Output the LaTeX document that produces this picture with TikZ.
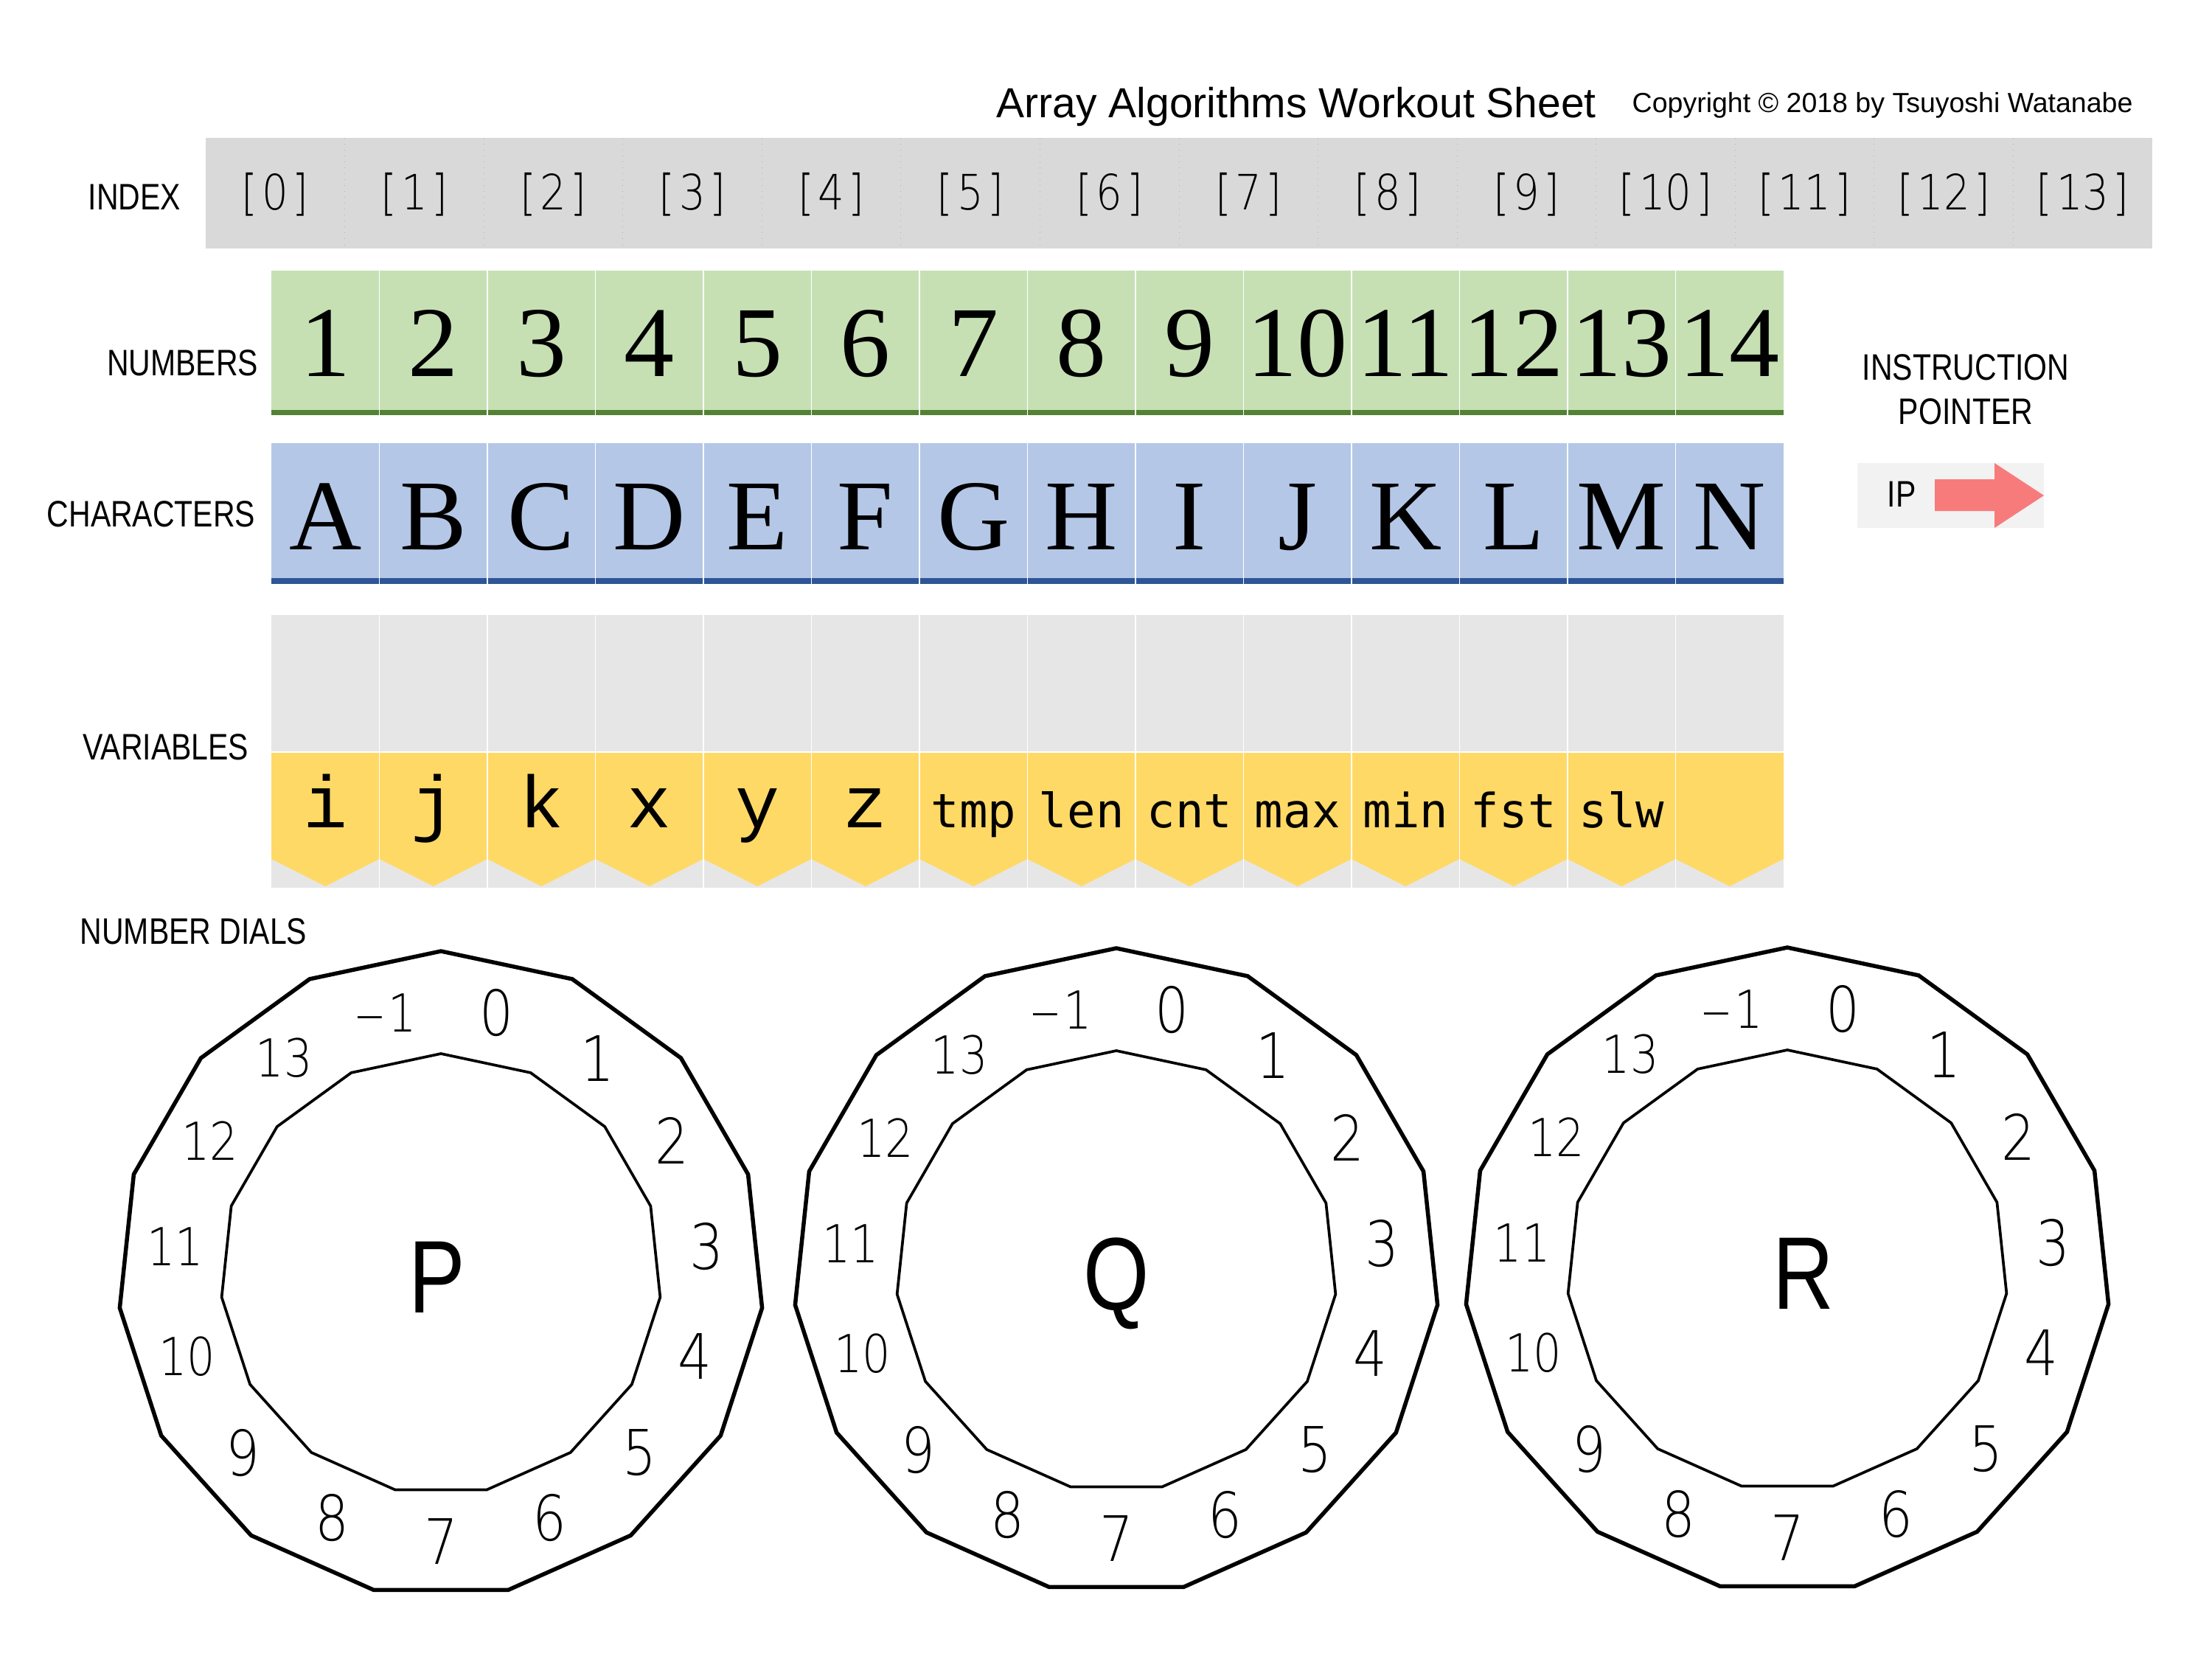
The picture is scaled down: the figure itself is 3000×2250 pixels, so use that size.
\documentclass[tikz,border=0pt]{standalone}
\usepackage{fontspec}
\setmainfont{Liberation Sans}
\newfontfamily\titlefont{Liberation Sans}
\newfontfamily\narrowfont[FakeStretch=0.82]{Liberation Sans}
\newfontfamily\serifnum{Liberation Serif}
\newfontfamily\courierfont{Liberation Mono}
\newfontfamily\sansmono{DejaVu Sans Mono}
\IfFontExistsTF{DejaVu Sans ExtraLight}%
  {\newfontfamily\dialfont[FakeStretch=0.85]{DejaVu Sans ExtraLight}}%
  {\newfontfamily\dialfont[FakeStretch=0.85]{DejaVu Sans}}
\newcommand\fsz[1]{\fontsize{\fpeval{#1*0.28453}pt}{\fpeval{#1*0.28453*1.2}pt}\selectfont}
\newcommand\idxlab[1]{\makebox[0.5em]{[}#1\makebox[0.5em]{]}}
\newcommand\negone{\scalebox{1.35}[1]{–}\kern0.06em 1}
\definecolor{idxgray}{HTML}{D9D9D9}
\definecolor{vargray}{HTML}{E7E6E6}
\definecolor{numgreen}{HTML}{C6E0B4}
\definecolor{numdark}{HTML}{548235}
\definecolor{chrblue}{HTML}{B4C7E7}
\definecolor{chrdark}{HTML}{2F5597}
\definecolor{varyellow}{HTML}{FFD966}
\definecolor{ipgray}{HTML}{F2F2F2}
\definecolor{iparrow}{HTML}{F87B7B}
\tikzset{
  lab/.style={font={\narrowfont\fsz{50}}, inner sep=0pt},
  titletext/.style={font={\titlefont\fsz{57}}, inner sep=0pt},
  copytext/.style={font={\titlefont\fsz{37.5}}, inner sep=0pt},
  idxtext/.style={font={\dialfont\fsz{66}}, inner sep=0pt},
  bigserif/.style={font={\serifnum\fsz{136}}, inner sep=0pt},
  courvar/.style={font={\courierfont\fsz{100}}, inner sep=0pt},
  monovar/.style={font={\sansmono\fsz{64}}, inner sep=0pt},
  dialnum/.style={font={\dialfont\fsz{#1}}, inner sep=0pt},
  dialletter/.style={font={\narrowfont\fsz{140}}, inner sep=0pt},
  celldiv/.style={white, line width=0.12mm},
  outerpoly/.style={line width=0.55mm, line join=miter},
  innerpoly/.style={line width=0.37mm, line join=miter}
}
% #1 name, #2 cx, #3 cy, #4 letter, #5 letter x offset
\newcommand\drawdial[5]{%
  \begin{scope}[shift={(#2,#3)}]
    \draw[outerpoly] (0,-438) \foreach \k in {1,...,14}{ -- ({438*cos(90-24*\k)},{-438*sin(90-24*\k)}) } -- cycle;
    \draw[innerpoly] (0,-299) \foreach \k in {1,...,14}{ -- ({299*cos(90-24*\k)},{-299*sin(90-24*\k)}) } -- cycle;
    \foreach \n/\s [count=\c from 0] in {\negone/71,0/85,1/85,2/85,3/85,4/85,5/85,6/85,7/85,8/85,9/85,10/71,11/71,12/71,13/71}{
      \node[dialnum=\s] (#1-n\c) at ({362*cos(102-24*\c)},{-362*sin(102-24*\c)}) {\n};
    }
    \node[dialletter, anchor=base] (#1) at (#5,52) {#4};
  \end{scope}}
\begin{document}
\begin{tikzpicture}[x=0.1mm,y=-0.1mm]
\useasboundingbox (0,0) rectangle (3000,2250);
% title
\node[titletext, anchor=base west] (title) at (1351,160) {Array Algorithms Workout Sheet};
\node[copytext, anchor=base west] (copy) at (2213,153) {Copyright © 2018 by Tsuyoshi Watanabe};
% index row
\fill[idxgray] (279,187) rectangle (2919,337);
\foreach \i in {1,...,13}{\draw[black!30, dotted, line width=0.1mm] ({279+188.57*\i},187) -- ++(0,150);}
\foreach \i in {0,...,13}{\node[idxtext, anchor=base] (idx\i) at ({279+188.57*(\i+0.5)},285) {\idxlab{\i}};}
\node[lab, anchor=base east] (lindex) at (246,285) {INDEX};
% numbers row
\fill[numgreen] (368,367) rectangle (2419,556);
\fill[numdark] (368,556) rectangle (2419,563);
\foreach \i in {1,...,13}{\draw[celldiv] ({368+146.5*\i},367) -- ++(0,196);}
\foreach \i in {1,...,14}{\node[bigserif, anchor=base] (num\i) at ({368+146.5*(\i-0.5)},510) {\i};}
\node[lab, anchor=base east] (lnum) at (351,509) {NUMBERS};
% characters row
\fill[chrblue] (368,601) rectangle (2419,784);
\fill[chrdark] (368,784) rectangle (2419,792);
\foreach \i in {1,...,13}{\draw[celldiv] ({368+146.5*\i},601) -- ++(0,191);}
\foreach \ch [count=\i] in {A,B,C,D,E,F,G,H,I,J,K,L,M,N}{\node[bigserif, anchor=base] (chr\i) at ({368+146.5*(\i-0.5)},745) {\ch};}
\node[lab, anchor=base east] (lchar) at (347,714) {CHARACTERS};
% variables row
\fill[vargray] (368,834) rectangle (2419,1204);
\foreach \i in {1,...,14}{
  \fill[varyellow] ({368+146.5*(\i-1)},1021) -- ({368+146.5*\i},1021) -- ({368+146.5*\i},1165)
     -- ({368+146.5*(\i-0.5)},1202) -- ({368+146.5*(\i-1)},1165) -- cycle;}
\foreach \i in {1,...,13}{\draw[celldiv] ({368+146.5*\i},834) -- ++(0,370);}
\draw[white, line width=0.15mm] (368,1020) -- (2419,1020);
\foreach \v [count=\i] in {i,j,k,x,y,z}{\node[courvar, anchor=base] (var\i) at ({368+146.5*(\i-0.5)},1122) {\v};}
\foreach \v [count=\i from 7] in {tmp,len,cnt,max,min,fst,slw}{\node[monovar, anchor=base] (var\i) at ({368+146.5*(\i-0.5)},1122) {\v};}
\node[lab, anchor=base east] (lvar) at (338,1030) {VARIABLES};
% instruction pointer
\node[lab, anchor=base] (lip1) at (2666,515) {INSTRUCTION};
\node[lab, anchor=base] (lip2) at (2666,575) {POINTER};
\fill[ipgray] (2519,628) rectangle (2772,716);
\node[lab, anchor=base west] (ip) at (2559,687) {IP};
\fill[iparrow] (2624,650) -- (2705,650) -- (2705,628) -- (2772,672) -- (2705,716) -- (2705,693) -- (2624,693) -- cycle;
% dials
\node[lab, anchor=base west] (ldial) at (108,1280) {NUMBER DIALS};
\drawdial{P}{598}{1728}{P}{-5}
\drawdial{Q}{1514}{1724}{Q}{0}
\drawdial{R}{2424}{1723}{R}{22}
\end{tikzpicture}
\end{document}
